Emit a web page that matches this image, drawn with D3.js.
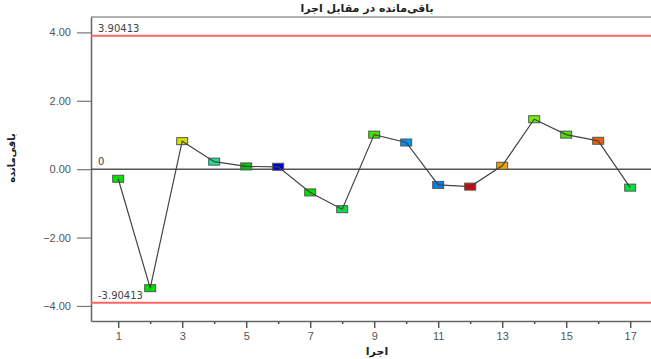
<!DOCTYPE html>
<html>
<head>
<meta charset="utf-8">
<script src="https://cdn.jsdelivr.net/npm/d3@7"></script>
<style>
  body { margin: 0; background: #fff; }
  svg { display: block; font-family: "DejaVu Sans", "Noto Sans", sans-serif; }
  .tick text { fill: #555; font-size: 11px; }
</style>
</head>
<body>
<svg id="chart" width="651" height="359"></svg>
<script>
// data
var runs = [1, 2, 3, 4, 5, 6, 7, 8, 9, 10, 11, 12, 13, 14, 15, 16, 17]
var residuals = [-0.28, -3.48, 0.82, 0.22, 0.08, 0.07, -0.68, -1.17, 1.01, 0.78, -0.46, -0.51, 0.10, 1.46, 1.01, 0.83, -0.54]
var markerColors = ['#00e000', '#00e000', '#d0e000', '#20e090', '#00c000', '#0000d0', '#00e000', '#00e040',
                    '#40e000', '#0090f0', '#0080f0', '#e00000', '#f0a000', '#70f000', '#50e000', '#f06000', '#00e040']
var limits = [3.90413, -3.90413]
var yTicks = [4, 2, 0, -2, -4]
var xTickLabels = [1, 3, 5, 7, 9, 11, 13, 15, 17]

var titleText = 'باقی‌مانده در مقابل اجرا'
var xLabel = 'اجرا'
var yLabel = 'باقی‌مانده'

var svg = d3.select('#chart')
var margin = {left: 91, top: 17, right: 0, bottom: 38}
var W = 651, H = 359

var x = d3.scaleLinear().domain([0.15, 17.9]).range([margin.left, 659])
var y = d3.scaleLinear().domain([-4.44, 4.45]).range([H - margin.bottom, margin.top])

// frame
svg.append('line').attr('x1', margin.left).attr('x2', W).attr('y1', margin.top).attr('y2', margin.top)
  .attr('stroke', '#999').attr('stroke-width', 1.5)

// axes
var gx = svg.append('g').attr('transform', 'translate(0,' + (H - margin.bottom) + ')')
  .call(d3.axisBottom(x).tickValues(runs).tickSize(7).tickSizeOuter(0)
    .tickFormat(function(d){ return xTickLabels.indexOf(d) >= 0 ? d : '' }))
gx.selectAll('.tick line').attr('stroke', '#555').attr('stroke-width', 1.5)
  .attr('y2', function(d){ return xTickLabels.indexOf(d) >= 0 ? 7 : 3 })
gx.selectAll('.tick text').attr('dy', '0.95em').attr('y', 9)
gx.select('.domain').attr('stroke', '#666').attr('stroke-width', 1.5)

var gy = svg.append('g').attr('transform', 'translate(' + margin.left + ',0)')
  .call(d3.axisLeft(y).tickValues(yTicks).tickSize(14).tickSizeOuter(0).tickFormat(d3.format('.2f')))
gy.selectAll('.tick line').attr('stroke', '#777').attr('stroke-width', 1.2)
gy.selectAll('.tick text').attr('x', -20)
gy.select('.domain').attr('stroke', '#666').attr('stroke-width', 1.5)

// limit lines
svg.selectAll('.limit').data(limits).enter().append('line').attr('class', 'limit')
  .attr('x1', margin.left).attr('x2', W)
  .attr('y1', function(d){ return y(d) }).attr('y2', function(d){ return y(d) })
  .attr('stroke', '#ff6464').attr('stroke-width', 2)
svg.selectAll('.limitLabel').data(limits).enter().append('text').attr('class', 'limitLabel')
  .attr('x', 98).attr('y', function(d){ return y(d) - 4 })
  .attr('font-size', 10).attr('fill', '#444').text(function(d){ return d })

// zero line
svg.append('line').attr('x1', margin.left).attr('x2', W).attr('y1', y(0)).attr('y2', y(0))
  .attr('stroke', '#555').attr('stroke-width', 1.5)
svg.append('text').attr('x', 98).attr('y', y(0) - 4).attr('font-size', 10).attr('fill', '#444').text('0')

// markers
var pts = runs.map(function(r, i){ return {x: r, y: residuals[i], c: markerColors[i]} })
svg.selectAll('.mk').data(pts).enter().append('rect').attr('class', 'mk')
  .attr('x', function(d){ return x(d.x) - 5.5 }).attr('y', function(d){ return y(d.y) - 3.5 })
  .attr('width', 11).attr('height', 7)
  .attr('fill', function(d){ return d.c }).attr('stroke', '#555').attr('stroke-width', 1)

// line drawn over the markers
var line = d3.line().x(function(d){ return x(d.x) }).y(function(d){ return y(d.y) })
svg.append('path').datum(pts).attr('d', line)
  .attr('fill', 'none').attr('stroke', '#444').attr('stroke-width', 1.2)

// titles
svg.append('text').attr('x', 367).attr('y', 12).attr('text-anchor', 'middle')
  .attr('font-size', 11).attr('font-weight', 'bold').attr('fill', '#222').text(titleText)
svg.append('text').attr('x', 377).attr('y', 355).attr('text-anchor', 'middle')
  .attr('font-size', 11).attr('font-weight', 'bold').attr('fill', '#222').text(xLabel)
svg.append('text').attr('transform', 'translate(15,158) rotate(-90)').attr('text-anchor', 'middle')
  .attr('font-size', 10).attr('font-weight', 'bold').attr('fill', '#222').text(yLabel)
</script>
</body>
</html>
